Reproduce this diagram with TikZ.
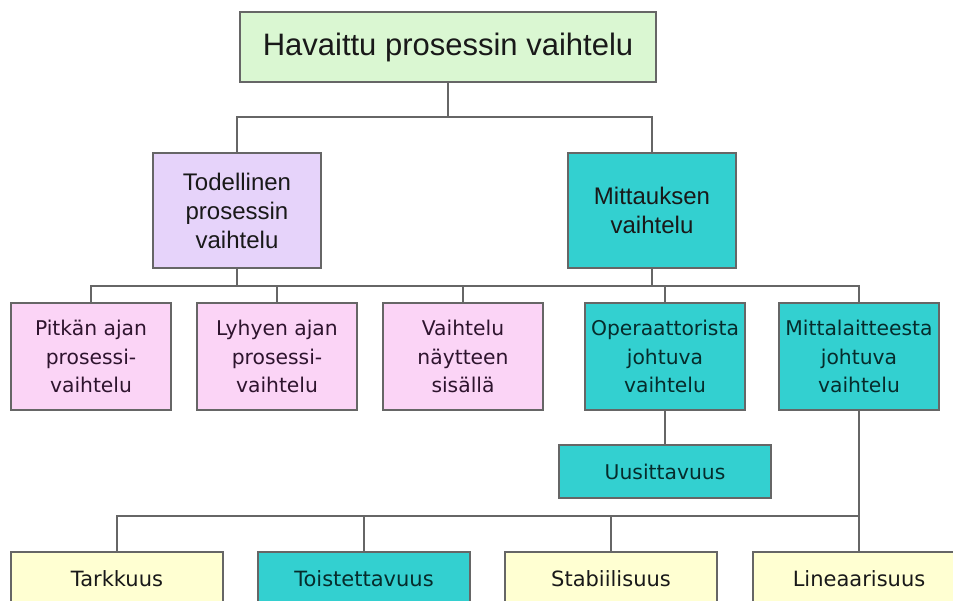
\documentclass[tikz,border=0pt]{standalone}
\usepackage{fontspec}
\setmainfont{Liberation Sans}
\newfontfamily\boxfont{DejaVu Sans}
\usetikzlibrary{positioning}
\definecolor{boxline}{HTML}{666666}
\definecolor{havgreen}{HTML}{DAF7D2}
\definecolor{todlilac}{HTML}{E6D3FA}
\definecolor{mitteal}{HTML}{33D0D0}
\definecolor{varpink}{HTML}{FBD4F6}
\definecolor{qualcream}{HTML}{FFFFD2}
\definecolor{pinktext}{HTML}{2E142E}
\definecolor{tealtext}{HTML}{062C2C}

\begin{document}
\begin{tikzpicture}[x=1pt, y=1pt,
        box/.style={draw=boxline, line width=1.2pt, inner sep=0pt, outer sep=0pt, align=center, text=black!90},
        link/.style={draw=boxline, line width=1.5pt},
        mainbox/.style={box, minimum width=168pt, minimum height=115pt, font=\fontsize{24}{29}\selectfont},
        sourcebox/.style={box, minimum width=160pt, minimum height=107pt, font=\boxfont\fontsize{20.3}{28.5}\selectfont},
        pinkbox/.style={sourcebox, fill=varpink, text=pinktext},
        tealbox/.style={sourcebox, fill=mitteal, text=tealtext},
        qualbox/.style={box, minimum width=212pt, minimum height=53pt, font=\boxfont\fontsize{21}{25}\selectfont}]
        \useasboundingbox (0,0) rectangle (953,-600);

        \node [box, fill=havgreen, minimum width=416pt, minimum height=70pt, font=\fontsize{31}{36}\selectfont] (hav) at (448,-47) {Havaittu prosessin vaihtelu};

        \node [mainbox, fill=todlilac] (todel) at (237,-210.5) {Todellinen\\prosessin\\vaihtelu};
        \node [mainbox, fill=mitteal] (mitt) at (652,-210.5) {Mittauksen\\vaihtelu};

        \node [pinkbox] (pitkan) at (91,-356.5) {Pitkän ajan\\prosessi-\\vaihtelu};
        \node [pinkbox, right=26pt of pitkan] (lyhyen) {Lyhyen ajan\\prosessi-\\vaihtelu};
        \node [pinkbox, right=26pt of lyhyen] (naytteen) {Vaihtelu\\näytteen\\sisällä};
        \node [tealbox, right=42pt of naytteen] (operaattori) {Operaattorista\\johtuva\\vaihtelu};
        \node [tealbox, right=34pt of operaattori] (mittalaite) {Mittalaitteesta\\johtuva\\vaihtelu};

        \node [tealbox, minimum width=212pt, minimum height=53pt, below=35pt of operaattori] (uusi) {Uusittavuus};

        \node [qualbox, fill=qualcream] (tark) at (117,-578.5) {Tarkkuus};
        \node [qualbox, fill=mitteal, text=tealtext, right=35pt of tark] (toist) {Toistettavuus};
        \node [qualbox, fill=qualcream, right=35pt of toist] (stab) {Stabiilisuus};
        \node [qualbox, fill=qualcream, right=36pt of stab] (lin) {Lineaarisuus};

        % top level
        \path (hav.south) ++(0,-35) coordinate (bus1);
        \draw [link] (hav.south) -- (bus1);
        \draw [link] (todel.north) |- (bus1) -| (mitt.north);

        % sources of variation
        \path (todel.south) ++(0,-18) coordinate (bus2);
        \draw [link] (todel.south) -- (bus2);
        \draw [link] (mitt.south) -- (mitt.south |- bus2);
        \draw [link] (pitkan.north) |- (bus2) -| (mittalaite.north);
        \foreach \n in {lyhyen, naytteen, operaattori}
            \draw [link] (\n.north) -- (\n.north |- bus2);

        \draw [link] (operaattori.south) -- (uusi.north);

        % measurement system
        \path (mittalaite.south) ++(0,-106) coordinate (bus3);
        \draw [link] (mittalaite.south) -- (mittalaite.south |- lin.north);
        \draw [link] (tark.north) |- (bus3);
        \foreach \n in {toist, stab}
            \draw [link] (\n.north) -- (\n.north |- bus3);
\end{tikzpicture}
\end{document}
